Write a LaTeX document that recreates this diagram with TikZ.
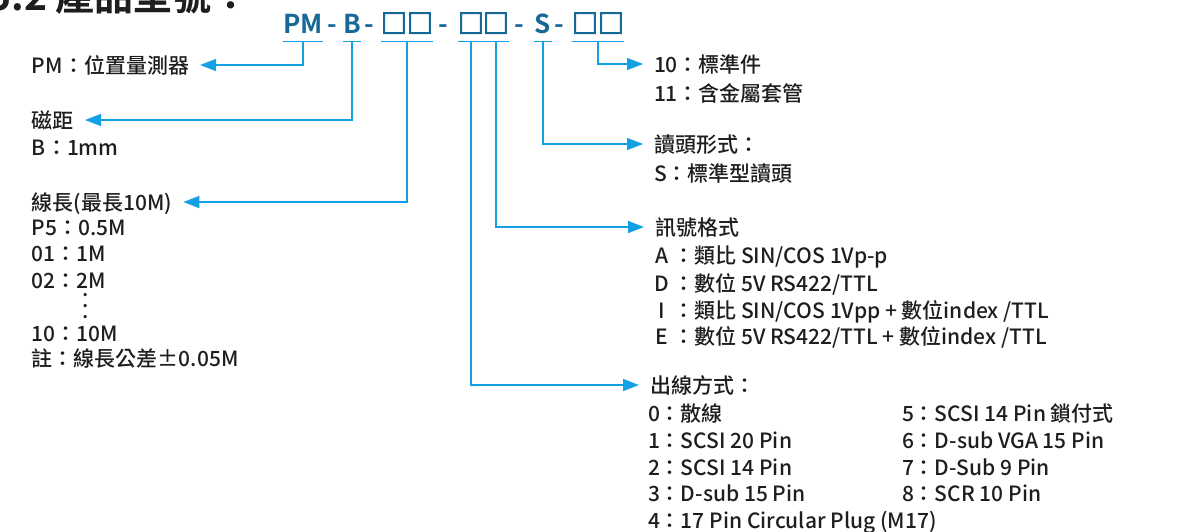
\documentclass[tikz,border=0pt]{standalone}
\usepackage{fontspec}
\setmainfont{Noto Sans CJK TC Medium}[BoldFont={Noto Sans CJK TC Bold}]
\newfontfamily\boxfont{Noto Sans CJK TC}[FakeBold=4]
\usepackage{tikz}
\usetikzlibrary{arrows.meta}
\definecolor{codeblue}{RGB}{22,104,150}
\definecolor{lineblue}{RGB}{20,160,228}
\definecolor{inkgray}{RGB}{30,30,30}
\tikzset{
  code/.style={font=\bfseries\fontsize{13pt}{13pt}\selectfont, text=codeblue, inner sep=0pt, text depth=4pt, anchor=base},
  boxes/.style={code, font=\boxfont\fontsize{13pt}{13pt}\selectfont},
  txt/.style={font=\fontsize{10.5pt}{13pt}\selectfont, text=inkgray, inner sep=0pt, outer xsep=5.5pt, text height=9pt, text depth=1pt, anchor=west},
  link/.style={draw=lineblue, line width=0.7pt}
}
\newcommand{\codebar}[1]{\draw[link] (#1.south west) -- (#1.south east);}
\newcommand{\branch}[2]{\draw[link, -{Triangle[length=8pt,width=6pt]}] (#1.south) |- (#2);}
\newcommand{\sigkey}[1]{\makebox[7pt][c]{#1}\hspace{2.25pt}：}
\newcommand{\tallvdots}{\vbox{\baselineskip5.5pt\lineskiplimit0pt\hbox{.}\hbox{.}\hbox{.}}}

\begin{document}
\begin{tikzpicture}[x=0.5pt, y=-0.5pt]
\useasboundingbox (0,0) rectangle (1179,531);
\node[font=\bfseries\fontsize{19.5pt}{20pt}\selectfont, text=inkgray, anchor=base west, inner sep=0pt] (title) at (-12,10) {5.2 產品型號：};
% model code
\node[code] (pm) at (303,33) {PM};
\node[code] (dash1) at (332,33) {-};
\node[code] (mag) at (352,33) {B};
\node[code] (dash2) at (369,33) {-};
\node[boxes] (len) at (407,33) {□□};
\node[code] (dash3) at (443,33) {-};
\node[boxes] (outb) at (471,33) {□};
\node[boxes] (sigb) at (496,33) {□};
\node[code] (dash4) at (519,33) {-};
\node[code] (head) at (543,33) {S};
\node[code] (dash5) at (559,33) {-};
\node[boxes] (sleeve) at (598,33) {□□};
\codebar{pm} \codebar{mag} \codebar{len} \codebar{outb} \codebar{sigb} \codebar{head} \codebar{sleeve}
% left column
\node[txt] (pmtxt) at (21,65) {PM：位置量測器};
\node[txt] (pitch) at (21,120) {磁距};
\node[txt] (pitchb) at (21,147) {B：1mm};
\node[txt] (lentxt) at (21,202) {線長(最長10M)};
\node[txt] (p5) at (21,227) {P5：0.5M};
\node[txt] (l01) at (21,253) {01：1M};
\node[txt] (l02) at (21,280) {02：2M};
\node[font=\fontsize{10.5pt}{13pt}\selectfont, text=inkgray, inner sep=0pt] (ldots) at (86,306) {\tallvdots};
\node[txt] (l10) at (21,333) {10：10M};
\node[txt] (note) at (21,358) {註：線長公差±0.05M};
% right column
\node[txt] (std) at (643,64) {10：標準件};
\node[txt] (metal) at (643,93) {11：含金屬套管};
\node[txt] (headtxt) at (643,144) {讀頭形式：};
\node[txt] (heads) at (643,173) {S：標準型讀頭};
\node[txt] (sigtxt) at (644,227) {訊號格式};
\node[txt] (siga) at (644,255) {\sigkey{A}類比 SIN/COS 1Vp-p};
\node[txt] (sigd) at (644,283) {\sigkey{D}數位 5V RS422/TTL};
\node[txt] (sigi) at (644,310) {\sigkey{I}類比 SIN/COS 1Vpp + 數位index /TTL};
\node[txt] (sige) at (644,336) {\sigkey{E}數位 5V RS422/TTL + 數位index /TTL};
\node[txt] (outtxt) at (639,385) {出線方式：};
\node[txt] (out0) at (637,413) {0：散線};
\node[txt] (out1) at (637,440) {1：SCSI 20 Pin};
\node[txt] (out2) at (637,467) {2：SCSI 14 Pin};
\node[txt] (out3) at (637,493) {3：D-sub 15 Pin};
\node[txt] (out4) at (637,520) {4：17 Pin Circular Plug (M17)};
\node[txt] (out5) at (891,413) {5：SCSI 14 Pin 鎖付式};
\node[txt] (out6) at (891,440) {6：D-sub VGA 15 Pin};
\node[txt] (out7) at (891,467) {7：D-Sub 9 Pin};
\node[txt] (out8) at (891,493) {8：SCR 10 Pin};
% connectors
\branch{pm}{pmtxt.east}
\branch{mag}{pitch.east}
\branch{len}{lentxt.east}
\branch{sleeve}{std.west}
\branch{head}{headtxt.west}
\branch{sigb}{sigtxt.west}
\branch{outb}{outtxt.west}
\end{tikzpicture}
\end{document}
